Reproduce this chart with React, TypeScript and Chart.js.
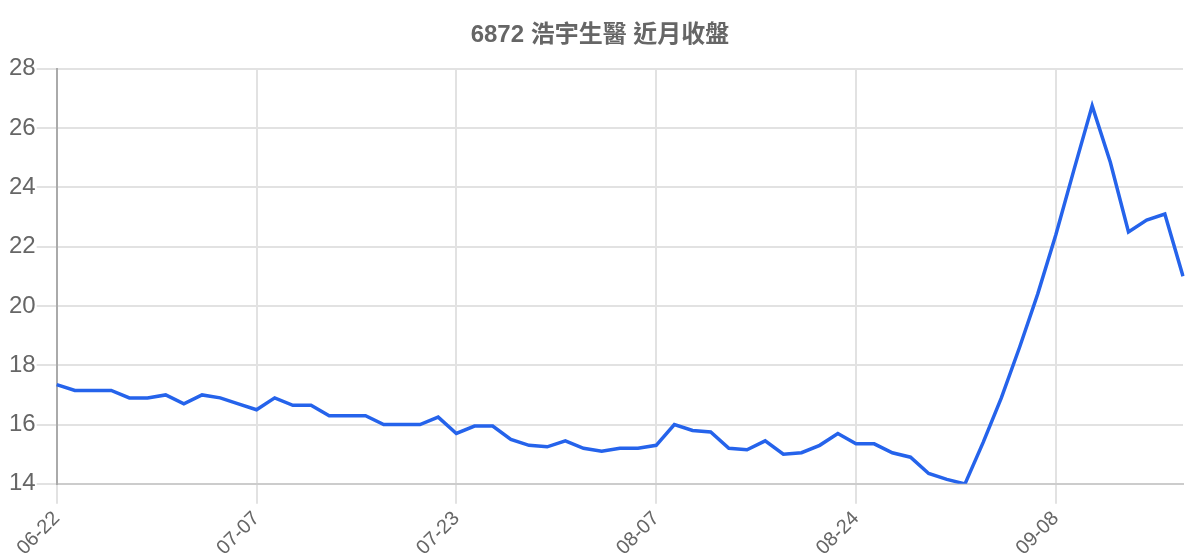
import { useEffect, useRef } from "react"
import { Chart, registerables } from "chart.js"

Chart.register(...registerables)

const dates = [
  "06-22", "06-23", "06-24", "06-25", "06-26", "06-29", "06-30", "07-01", "07-02", "07-03",
  "07-06", "07-07", "07-08", "07-09", "07-10", "07-13", "07-14", "07-15", "07-16", "07-17",
  "07-20", "07-21", "07-23", "07-24", "07-27", "07-28", "07-29", "07-30", "07-31", "08-03",
  "08-04", "08-05", "08-06", "08-07", "08-10", "08-11", "08-12", "08-13", "08-14", "08-17",
  "08-18", "08-19", "08-20", "08-21", "08-24", "08-25", "08-26", "08-27", "08-28", "08-31",
  "09-01", "09-02", "09-03", "09-04", "09-07", "09-08", "09-09", "09-10", "09-11", "09-14",
  "09-15", "09-16", "09-17",
]

const closes = [
  17.35, 17.15, 17.15, 17.15, 16.9, 16.9, 17.0, 16.7, 17.0, 16.9,
  16.7, 16.5, 16.9, 16.65, 16.65, 16.3, 16.3, 16.3, 16.0, 16.0,
  16.0, 16.25, 15.7, 15.95, 15.95, 15.5, 15.3, 15.25, 15.45, 15.2,
  15.1, 15.2, 15.2, 15.3, 16.0, 15.8, 15.75, 15.2, 15.15, 15.45,
  15.0, 15.05, 15.3, 15.7, 15.35, 15.35, 15.05, 14.9, 14.35, 14.15,
  14.0, 15.4, 16.9, 18.6, 20.4, 22.4, 24.6, 26.75, 24.85, 22.5,
  22.9, 23.1, 21.0,
]

const yTicks = [14, 16, 18, 20, 22, 24, 26, 28]
const labelEvery = 11

const title = "6872 浩宇生醫 近月收盤"
const fontFamily = "'Liberation Sans', Arial, 'Noto Sans CJK TC', sans-serif"
const textColor = "#666666"
const gridColor = "#e2e2e2"

export default function App() {
  const canvasRef = useRef<HTMLCanvasElement>(null)

  useEffect(() => {
    const ctx = canvasRef.current?.getContext("2d")
    if (!ctx) return

    const chart = new Chart(ctx, {
      type: "line",
      data: {
        labels: dates,
        datasets: [
          {
            label: "收盤",
            data: closes,
            borderColor: "rgb(37, 99, 235)",
            borderWidth: 3.5,
            pointRadius: 0,
            tension: 0,
            fill: false,
          },
        ],
      },
      options: {
        responsive: true,
        maintainAspectRatio: false,
        animation: false,
        plugins: {
          legend: { display: false },
          tooltip: { enabled: false },
          title: {
            display: true,
            text: title,
            color: textColor,
            font: { family: fontFamily, size: 24, weight: "bold" },
            padding: { top: 13, bottom: 19 },
          },
        },
        scales: {
          x: {
            grid: {
              color: (c: any) => (c.index % labelEvery === 0 ? gridColor : "transparent"),
              lineWidth: 2,
              tickLength: 20,
            },
            border: { color: "#cccccc", width: 2 },
            afterFit: (axis: any) => {
              axis.paddingRight = 9
            },
            ticks: {
              autoSkip: false,
              maxRotation: 45,
              minRotation: 45,
              color: textColor,
              font: { family: fontFamily, size: 20 },
              callback: (_v: any, i: number) => (i % labelEvery === 0 ? dates[i] : ""),
            },
          },
          y: {
            min: yTicks[0],
            max: yTicks[yTicks.length - 1],
            grid: { color: gridColor, lineWidth: 2, tickLength: 20 },
            border: { color: "#aaaaaa", width: 2 },
            afterBuildTicks: (axis: any) => {
              axis.ticks = yTicks.map((v) => ({ value: v }))
            },
            ticks: {
              padding: 1,
              color: textColor,
              font: { family: fontFamily, size: 24 },
            },
          },
        },
      },
    })

    return () => {
      chart.destroy()
    }
  }, [])

  return (
    <div style={{ height: 555 }}>
      <canvas ref={canvasRef}></canvas>
    </div>
  )
}
